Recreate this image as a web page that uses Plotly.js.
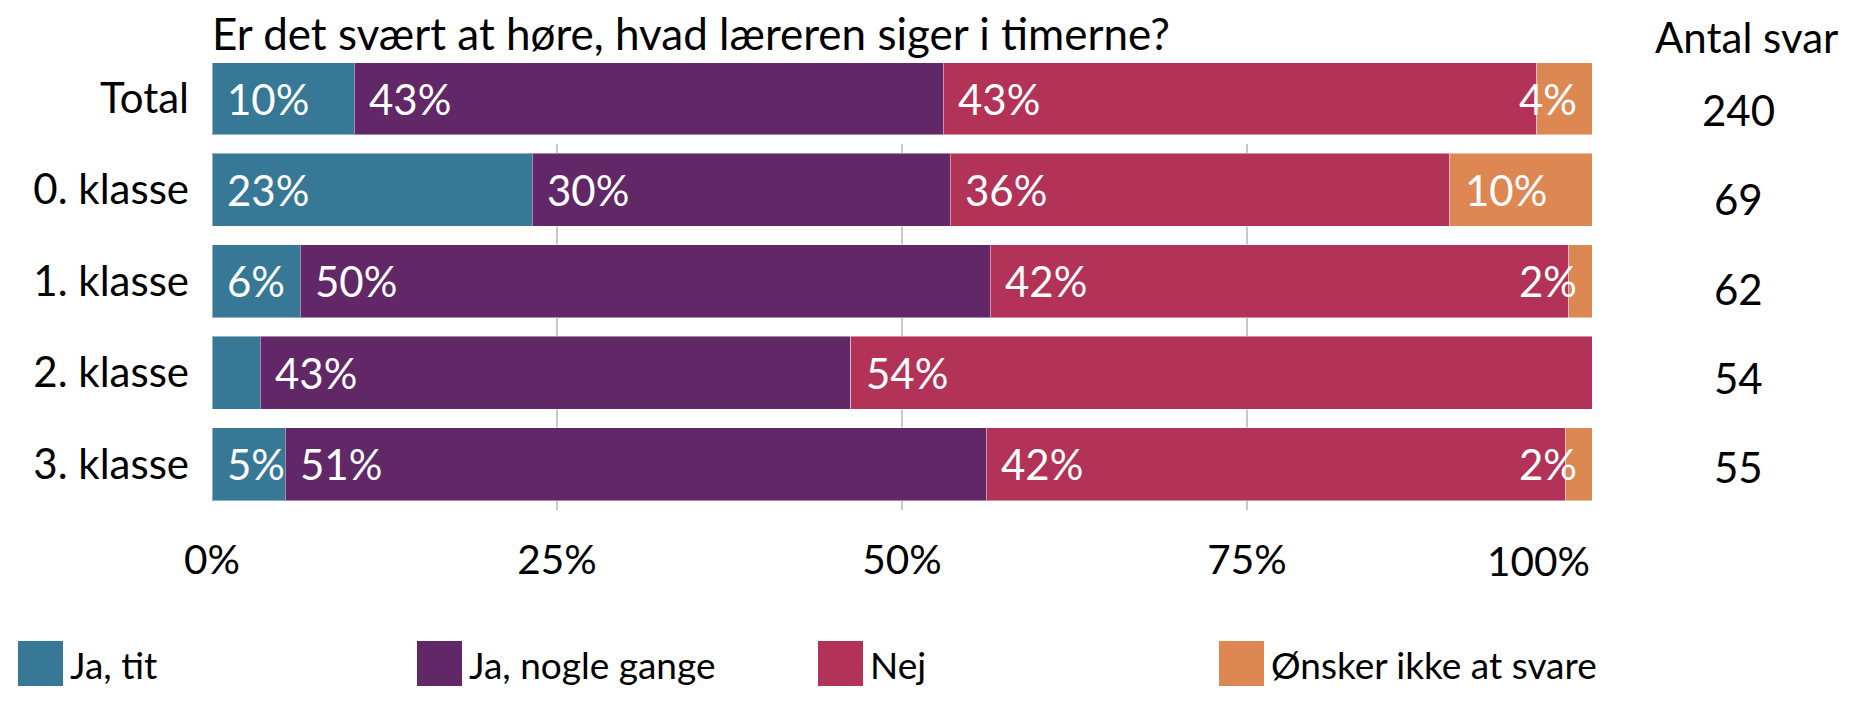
<!DOCTYPE html>
<html>
<head>
<meta charset="utf-8">
<script src="https://cdn.plot.ly/plotly-3.0.1.min.js"></script>
<style>html,body{margin:0;padding:0;background:#fff;}#chart{width:1860px;height:704px;}</style>
</head>
<body>
<div id="chart"></div>
<script>
// ---- data ----
const rows = ['Total', '0. klasse', '1. klasse', '2. klasse', '3. klasse'];
const seriesNames = ['Ja, tit', 'Ja, nogle gange', 'Nej', 'Ønsker ikke at svare'];
const jaTit   = [10.3, 23.2, 6.4, 3.5, 5.3];
const jaNogle = [42.7, 30.3, 50.0, 42.8, 50.8];
const nej     = [43.0, 36.2, 41.9, 53.7, 42.0];
const onsker  = [4.0, 10.3, 1.7, 0.0, 1.9];
const antalSvar = [240, 69, 62, 54, 55];
const xTickVals = [0, 25, 50, 75, 100];
const xTickText = ['0%', '25%', '50%', '75%', '100%'];
const titleText = 'Er det svært at høre, hvad læreren siger i timerne?';
const countHeader = 'Antal svar';

// ---- styling ----
const colors = ['#367896', '#612766', '#b33257', '#dd8753'];
const FONT = 'Lato, "Open Sans", sans-serif';
const FS_TITLE = 44, FS_Y = 42, FS_X = 40.5, FS_LAB = 42, FS_CNT = 42, FS_LEG = 37;
const L = 212, R = 1592, T = 54, B = 510;
const W = R - L, H = B - T;
const pxX = p => (p - L) / W;
const pxY = p => (B - p) / H;
const topDomain = [pxY(143.5), 1];
const botDomain = [0, pxY(144)];

const seriesVals = [jaTit, jaNogle, nej, onsker];
const classes = rows.slice(1);
const traces = [];
seriesVals.forEach((vals, i) => {
  traces.push({
    type: 'bar', orientation: 'h', name: seriesNames[i],
    y: [rows[0]], x: [vals[0]], xaxis: 'x2', yaxis: 'y2',
    marker: {color: colors[i], line: {color: 'rgba(255,255,255,0.45)', width: 1}},
    hoverinfo: 'x+name', showlegend: false
  });
  traces.push({
    type: 'bar', orientation: 'h', name: seriesNames[i],
    y: classes, x: vals.slice(1), xaxis: 'x', yaxis: 'y',
    marker: {color: colors[i], line: {color: 'rgba(255,255,255,0.45)', width: 1}},
    hoverinfo: 'x+name', showlegend: false
  });
});

const annotations = [];
// segment labels
rows.forEach((row, j) => {
  let start = 0;
  seriesVals.forEach((vals, i) => {
    const v = vals[j];
    const isLast = i === seriesVals.length - 1;
    const show = v > 0 && (isLast || v >= 4);
    if (show) {
      const small = isLast && v < 5;
      annotations.push({
        xref: j === 0 ? 'x2' : 'x', yref: j === 0 ? 'y2' : 'y',
        x: small ? 100 : start, y: row,
        xanchor: small ? 'right' : 'left', yanchor: 'middle',
        xshift: small ? -13 : 13,
        text: Math.round(v) + '%', showarrow: false,
        font: {family: FONT, size: FS_LAB, color: '#ffffff'}
      });
    }
    start += v;
  });
});
// 100% tick label (right-aligned to the axis end)
annotations.push({
  xref: 'x', yref: 'paper', x: 100, y: 0, xanchor: 'right', yanchor: 'middle',
  yshift: -50, text: xTickText[4], showarrow: false,
  font: {family: FONT, size: FS_X, color: '#000'}
});
// count column
annotations.push({
  xref: 'paper', yref: 'paper', x: pxX(1746), y: pxY(37), xanchor: 'center', yanchor: 'middle',
  text: countHeader, showarrow: false, font: {family: FONT, size: FS_CNT, color: '#000'}
});
antalSvar.forEach((n, k) => {
  annotations.push({
    xref: 'paper', yref: 'paper', x: pxX(1738), y: pxY(110 + 89.25 * k),
    xanchor: 'center', yanchor: 'middle', text: String(n), showarrow: false,
    font: {family: FONT, size: FS_CNT, color: '#000'}
  });
});
// legend
const shapes = [];
const legX = [18, 417, 818, 1219];
seriesNames.forEach((name, i) => {
  shapes.push({
    type: 'rect', xref: 'paper', yref: 'paper',
    x0: pxX(legX[i]), x1: pxX(legX[i] + 45), y0: pxY(641), y1: pxY(686),
    fillcolor: colors[i], line: {width: 0}
  });
  annotations.push({
    xref: 'paper', yref: 'paper', x: pxX(legX[i] + 50), y: pxY(664),
    xanchor: 'left', yanchor: 'middle', text: name, showarrow: false,
    font: {family: FONT, size: FS_LEG, color: '#000'}
  });
});

const layout = {
  width: 1860, height: 704,
  margin: {l: L, r: 1860 - R, t: T, b: 704 - B, pad: 0},
  paper_bgcolor: '#fff', plot_bgcolor: '#fff',
  font: {family: FONT, size: FS_Y, color: '#000'},
  barmode: 'stack', bargap: 0.2,
  showlegend: false,
  title: {
    text: titleText, xref: 'paper', x: 0, xanchor: 'left',
    yref: 'container', y: 1 - 35 / 704, yanchor: 'middle',
    font: {family: FONT, size: FS_TITLE, color: '#000'}
  },
  xaxis: {
    anchor: 'y', range: [0, 100], domain: [0, 1],
    tickvals: xTickVals, ticktext: xTickText.slice(0, 4).concat(['']),
    showgrid: true, gridcolor: '#c8c8c8', gridwidth: 1.5,
    zeroline: false, showline: false, ticks: '', ticklabelstandoff: 22,
    tickfont: {family: FONT, size: FS_X, color: '#000'}, fixedrange: true
  },
  xaxis2: {
    anchor: 'y2', range: [0, 100], domain: [0, 1], showgrid: false,
    zeroline: false, showline: false, showticklabels: false, ticks: '', fixedrange: true
  },
  yaxis: {
    domain: botDomain, type: 'category', categoryarray: classes, categoryorder: 'array',
    autorange: 'reversed', showgrid: false, zeroline: false, showline: false, ticks: '',
    ticklabelstandoff: 22, tickfont: {family: FONT, size: FS_Y, color: '#000'}, fixedrange: true
  },
  yaxis2: {
    domain: topDomain, type: 'category', anchor: 'x2',
    showgrid: false, zeroline: false, showline: false, ticks: '',
    ticklabelstandoff: 22, tickfont: {family: FONT, size: FS_Y, color: '#000'}, fixedrange: true
  },
  annotations: annotations,
  shapes: shapes
};

Plotly.newPlot('chart', traces, layout, {displayModeBar: false, staticPlot: true});
</script>
</body>
</html>
